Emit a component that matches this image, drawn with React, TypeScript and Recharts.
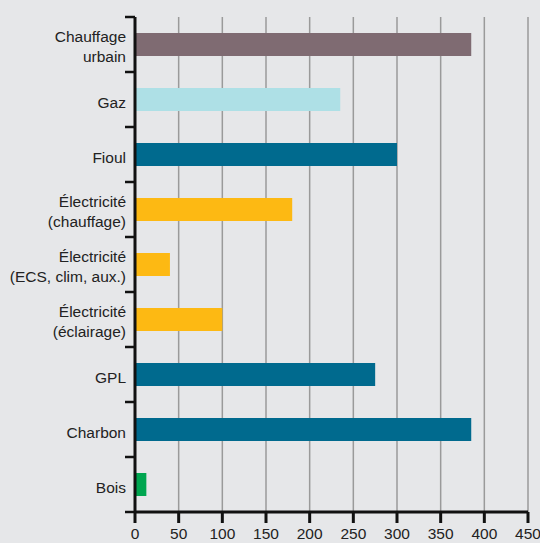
import React from "react";
import { BarChart, Bar, XAxis, YAxis, CartesianGrid, Cell } from "recharts";

const categories = [
  "Chauffage\nurbain",
  "Gaz",
  "Fioul",
  "Électricité\n(chauffage)",
  "Électricité\n(ECS, clim, aux.)",
  "Électricité\n(éclairage)",
  "GPL",
  "Charbon",
  "Bois",
];
const values = [385, 235, 300, 180, 40, 100, 275, 385, 13];
const colors = [
  "#7f6b72",
  "#aee0e6",
  "#006a8e",
  "#fdb913",
  "#fdb913",
  "#fdb913",
  "#006a8e",
  "#006a8e",
  "#00a650",
];
const xTicks = [0, 50, 100, 150, 200, 250, 300, 350, 400, 450];

const W = 540;
const H = 543;
const MARGIN = { top: 17, right: 12, bottom: 0, left: 0 };
const X_AXIS_H = 31;
const PLOT_H = H - MARGIN.top - MARGIN.bottom - X_AXIS_H;
const BAND = PLOT_H / categories.length;

const data = categories.map((name, i) => ({ name, value: values[i] }));

const FONT = "'Liberation Sans', Arial, Helvetica, sans-serif";

const YTick = (props: any) => {
  const { x, y, payload, index } = props;
  const lines = String(payload.value).split("\n");
  const n = lines.length;
  const half = BAND / 2;
  return (
    <g>
      <line x1={x - 10} x2={x} y1={y - half} y2={y - half} stroke="#111" strokeWidth={2.5} />
      {index === categories.length - 1 && (
        <line x1={x - 10} x2={x} y1={y + half} y2={y + half} stroke="#111" strokeWidth={2.5} />
      )}
      <text
        x={x - 9}
        textAnchor="end"
        fill="#222"
        fontSize={15.5}
        fontFamily={FONT}
      >
        {lines.map((l, i) => (
          <tspan key={i} x={x - 9} y={y + 8.5 - (n - 1) * 11 + i * 19.5}>
            {l}
          </tspan>
        ))}
      </text>
    </g>
  );
};

export default function App() {
  return (
    <div
      style={{
        position: "absolute",
        left: 0,
        top: 0,
        width: W,
        height: H,
        background: "#e6e7e9",
      }}
    >
      <BarChart width={W} height={H} data={data} layout="vertical" margin={MARGIN}>
        <CartesianGrid horizontal={false} vertical={true} stroke="#9a9a9a" strokeWidth={1.5} />
        <XAxis
          type="number"
          domain={[0, 450]}
          ticks={xTicks}
          interval={0}
          height={X_AXIS_H}
          axisLine={{ stroke: "#111", strokeWidth: 3 }}
          tickLine={{ stroke: "#111", strokeWidth: 3 }}
          tickSize={11}
          tickMargin={5}
          tick={{ fill: "#222", fontSize: 15.5, fontFamily: FONT }}
        />
        <YAxis
          type="category"
          dataKey="name"
          width={135}
          interval={0}
          tickLine={false}
          tickSize={0}
          tickMargin={0}
          axisLine={{ stroke: "#111", strokeWidth: 3 }}
          tick={<YTick />}
        />
        <Bar dataKey="value" barSize={23} isAnimationActive={false}>
          {data.map((d, i) => (
            <Cell key={i} fill={colors[i]} />
          ))}
        </Bar>
      </BarChart>
    </div>
  );
}
